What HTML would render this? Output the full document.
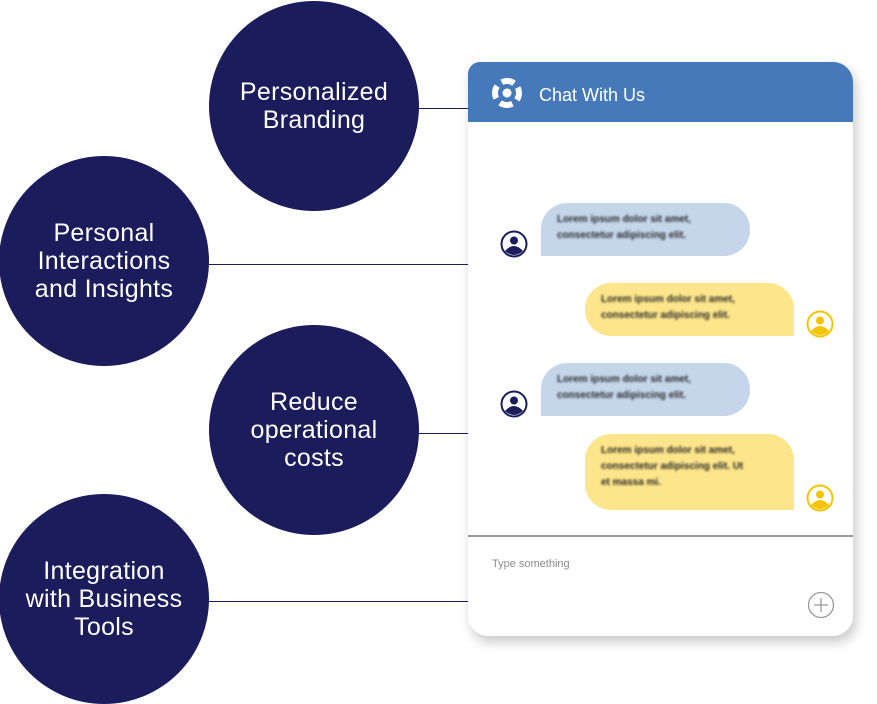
<!DOCTYPE html>
<html><head><style>
body{margin:0;width:877px;height:704px;background:#fff;position:relative;overflow:hidden;font-family:"Liberation Sans",sans-serif}
.c{position:absolute;width:210px;height:210px;border-radius:50%;background:#1a1c5b;color:#fff;display:flex;align-items:center;justify-content:center;text-align:center;font-size:25px;line-height:28px;letter-spacing:0.3px}
.l{position:absolute;height:1px;background:#1a1c5b}
.card{position:absolute;left:468px;top:62px;width:385px;height:574px;background:#fff;border-radius:12px 20px 20px 20px;box-shadow:3px 6px 12px rgba(0,0,0,0.22);overflow:hidden}
.hd{position:absolute;left:0;top:0;width:385px;height:60px;background:#4679b9}
.b{position:absolute;width:209px;font-size:10px;line-height:16px;color:#2a2a2a;font-weight:bold;padding:9px 0 0 16px;box-sizing:border-box;}
.b span{filter:blur(1.1px);display:block}
.blue{background:#c5d5ea;border-radius:26px 26px 26px 0}
.yel{background:#fce58a;border-radius:26px 26px 0 26px}
.av{position:absolute}
</style></head><body>
<div class="l" style="left:419px;top:108px;width:50px"></div>
<div class="l" style="left:209px;top:264px;width:260px"></div>
<div class="l" style="left:419px;top:433px;width:50px"></div>
<div class="l" style="left:209px;top:601px;width:260px"></div>
<div class="c" style="left:209px;top:1px">Personalized<br>Branding</div>
<div class="c" style="left:-1px;top:156px">Personal<br>Interactions<br>and Insights</div>
<div class="c" style="left:209px;top:325px">Reduce<br>operational<br>costs</div>
<div class="c" style="left:-1px;top:494px">Integration<br>with Business<br>Tools</div>
<div class="card">
<div class="hd">
<svg style="position:absolute;left:22px;top:14px" width="34" height="34" viewBox="0 0 34 34"><circle cx="17" cy="17" r="12" fill="none" stroke="#fff" stroke-width="6" stroke-dasharray="12.8 6"  transform="rotate(-27 17 17)"/><circle cx="17" cy="17" r="4.5" fill="#fff"/></svg>
<div style="position:absolute;left:71px;top:23px;color:#fff;font-size:18px">Chat With Us</div>
</div>
<div class="b blue" style="left:73px;top:141px;height:53px"><span>Lorem ipsum dolor sit amet,<br>consectetur adipiscing elit.</span></div>
<div class="b yel" style="left:117px;top:221px;height:53px"><span>Lorem ipsum dolor sit amet,<br>consectetur adipiscing elit.</span></div>
<div class="b blue" style="left:73px;top:301px;height:53px"><span>Lorem ipsum dolor sit amet,<br>consectetur adipiscing elit.</span></div>
<div class="b yel" style="left:117px;top:372px;height:76px"><span>Lorem ipsum dolor sit amet,<br>consectetur adipiscing elit. Ut<br>et massa mi.</span></div>
<svg class="av" style="left:32px;top:168px" width="28" height="28" viewBox="0 0 28 28"><circle cx="14" cy="14" r="12.5" fill="#fff" stroke="#1a1c5b" stroke-width="2"/><circle cx="14" cy="10.5" r="4" fill="#1a1c5b"/><path d="M5 21 Q14 11 23 21 Q14 29 5 21Z" fill="#1a1c5b"/></svg>
<svg class="av" style="left:32px;top:328px" width="28" height="28" viewBox="0 0 28 28"><circle cx="14" cy="14" r="12.5" fill="#fff" stroke="#1a1c5b" stroke-width="2"/><circle cx="14" cy="10.5" r="4" fill="#1a1c5b"/><path d="M5 21 Q14 11 23 21 Q14 29 5 21Z" fill="#1a1c5b"/></svg>
<svg class="av" style="left:338px;top:248px" width="28" height="28" viewBox="0 0 28 28"><circle cx="14" cy="14" r="12.5" fill="#fff" stroke="#f5c400" stroke-width="2"/><circle cx="14" cy="10.5" r="4" fill="#f5c400"/><path d="M5 21 Q14 11 23 21 Q14 29 5 21Z" fill="#f5c400"/></svg>
<svg class="av" style="left:338px;top:422px" width="28" height="28" viewBox="0 0 28 28"><circle cx="14" cy="14" r="12.5" fill="#fff" stroke="#f5c400" stroke-width="2"/><circle cx="14" cy="10.5" r="4" fill="#f5c400"/><path d="M5 21 Q14 11 23 21 Q14 29 5 21Z" fill="#f5c400"/></svg>
<div style="position:absolute;left:0;top:473px;width:385px;height:2px;background:#9a9a9a"></div>
<div style="position:absolute;left:24px;top:496px;font-size:11px;color:#8a8a8a">Type something</div>
<svg style="position:absolute;left:339px;top:529px" width="28" height="28" viewBox="0 0 28 28"><circle cx="14" cy="14" r="12.5" fill="none" stroke="#999" stroke-width="1.3"/><path d="M14 7V21M7 14H21" stroke="#999" stroke-width="1.3"/></svg>
</div>
</body></html>
